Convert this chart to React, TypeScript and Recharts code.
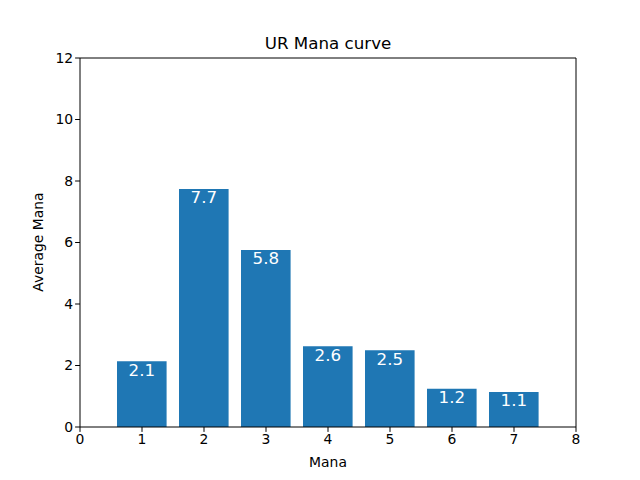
import React from "react";
import { BarChart, Bar, XAxis, YAxis, LabelList, ReferenceLine } from "recharts";

const manaCosts = [1, 2, 3, 4, 5, 6, 7];
const averages = [2.14, 7.74, 5.76, 2.63, 2.5, 1.24, 1.14];
const xTicks = [0, 1, 2, 3, 4, 5, 6, 7, 8];
const yTicks = [0, 2, 4, 6, 8, 10, 12];

const data = manaCosts.map((m, i) => ({ mana: m, avg: averages[i] }));

const FONT = "DejaVu Sans, sans-serif";

const renderLabel = (props: any) => {
  const { x, y, width, value } = props;
  return (
    <text
      x={Number(x) + Number(width) / 2}
      y={Number(y) + 14.5}
      fill="#ffffff"
      fontSize={16.7}
      fontFamily={FONT}
      textAnchor="middle"
    >
      {Number(value).toFixed(1)}
    </text>
  );
};

export default function App() {
  const tickStyle = { fill: "#000", fontSize: 13.9, fontFamily: FONT };
  return (
    <div style={{ position: "absolute", left: 0, top: 0, width: 640, height: 480, background: "#fff" }}>
      <svg style={{ position: "absolute", left: 0, top: 0, pointerEvents: "none" }} width={640} height={480}>
        <text x={328} y={49} textAnchor="middle" fontSize={16.7} fontFamily={FONT} fill="#000">
          UR Mana curve
        </text>
        <text x={328} y={467} textAnchor="middle" fontSize={13.9} fontFamily={FONT} fill="#000">
          Mana
        </text>
        <text
          x={0}
          y={0}
          transform="translate(43, 242) rotate(-90)"
          textAnchor="middle"
          fontSize={13.9}
          fontFamily={FONT}
          fill="#000"
        >
          Average Mana
        </text>
      </svg>
      <BarChart
        width={640}
        height={480}
        data={data}
        margin={{ top: 58, right: 64, bottom: 23, left: 40 }}
        style={{ position: "absolute", left: 0, top: 0 }}
      >
        <XAxis
          dataKey="mana"
          type="number"
          domain={[0, 8]}
          ticks={xTicks}
          allowDecimals={false}
          height={30}
          tickSize={4.9}
          tickMargin={2}
          tick={tickStyle}
          axisLine={{ stroke: "#000", strokeWidth: 1 }}
          tickLine={{ stroke: "#000", strokeWidth: 1 }}
          interval={0}
        />
        <YAxis
          type="number"
          domain={[0, 12]}
          ticks={yTicks}
          width={40}
          tickSize={4.9}
          tickMargin={2}
          tick={tickStyle}
          axisLine={{ stroke: "#000", strokeWidth: 1 }}
          tickLine={{ stroke: "#000", strokeWidth: 1 }}
          interval={0}
        />
        <Bar dataKey="avg" fill="#1f77b4" barSize={49.6} isAnimationActive={false}>
          <LabelList dataKey="avg" content={renderLabel} />
        </Bar>
        <ReferenceLine y={12} stroke="#000" strokeWidth={1} />
        <ReferenceLine x={8} stroke="#000" strokeWidth={1} />
      </BarChart>
    </div>
  );
}
